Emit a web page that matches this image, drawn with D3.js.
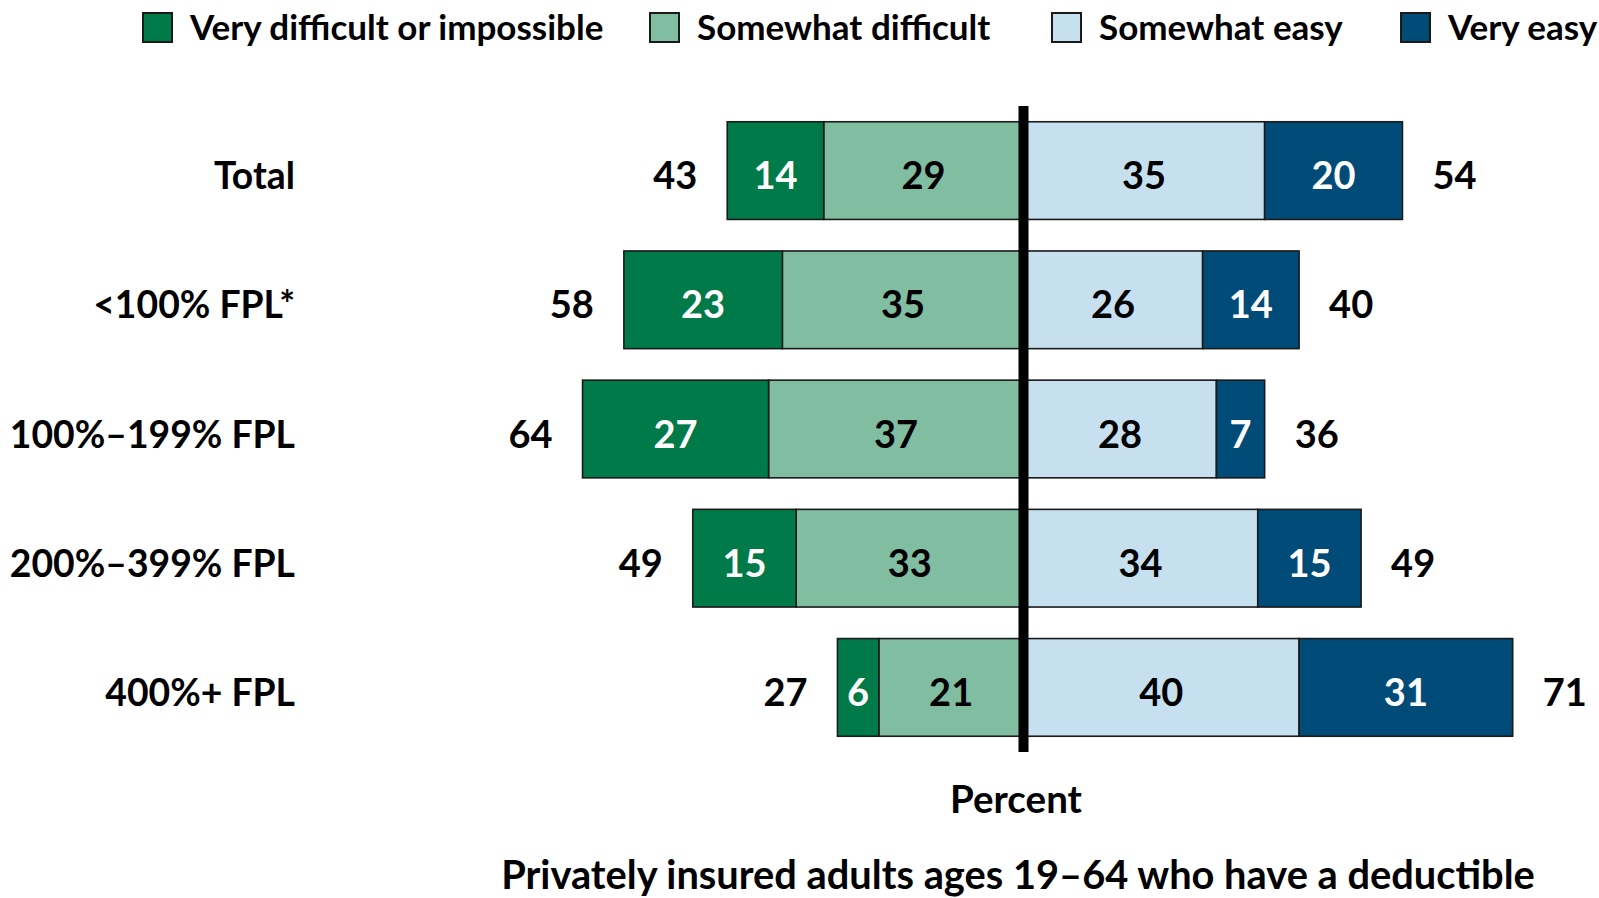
<!DOCTYPE html>
<html>
<head>
<meta charset="utf-8">
<script src="https://cdn.jsdelivr.net/npm/d3@7"></script>
<style>
  html, body { margin: 0; padding: 0; background: #ffffff; }
  svg { display: block; }
  text { font-family: Lato, "Open Sans", "Noto Sans", sans-serif; font-weight: 700; fill: #000; }
</style>
</head>
<body>
<svg id="chart" width="1599" height="898"></svg>
<script>
// Income groups (rows of the diverging bar chart)
const categories = ["Total", "<100% FPL*", "100%–199% FPL", "200%–399% FPL", "400%+ FPL"];

// Percent of adults in each response group
const veryDifficult     = [14, 23, 27, 15, 6];
const somewhatDifficult = [29, 35, 37, 33, 21];
const somewhatEasy      = [35, 26, 28, 34, 40];
const veryEasy          = [20, 14, 7, 15, 31];

// Net totals printed beside each side of the bars
const difficultTotals = [43, 58, 64, 49, 27];
const easyTotals      = [54, 40, 36, 49, 71];

const seriesNames  = ["Very difficult or impossible", "Somewhat difficult", "Somewhat easy", "Very easy"];
const seriesColors = ["#007a48", "#81bda1", "#c6e0ef", "#004b78"];
const seriesText   = ["#ffffff", "#000000", "#000000", "#ffffff"];

const axisTitle  = "Percent";
const chartTitle = "Privately insured adults ages 19–64 who have a deductible";

// ---- layout ----
const svg = d3.select("#chart");
const unit = 6.89;          // pixels per percentage point
const zeroX = 1023.5;       // position of the centre divider
const x = d3.scaleLinear()
  .domain([-70, 75])
  .range([zeroX - 70 * unit, zeroX + 75 * unit]);

const y = d3.scaleBand()
  .domain(categories)
  .range([106, 752])
  .paddingInner(0.244)
  .paddingOuter(0.122);

const labelSize = 38;
const rowLabelSize = 37.3;
const textDrop = 18.5;      // baseline offset from the band centre

// Build stacked segments: negative side grows leftwards from zero
const segments = [];
categories.forEach((cat, i) => {
  const sd = somewhatDifficult[i], vd = veryDifficult[i];
  const se = somewhatEasy[i], ve = veryEasy[i];
  segments.push({ cat, s: 1, v: sd, x0: -sd, x1: 0 });
  segments.push({ cat, s: 0, v: vd, x0: -(sd + vd), x1: -sd });
  segments.push({ cat, s: 2, v: se, x0: 0, x1: se });
  segments.push({ cat, s: 3, v: ve, x0: se, x1: se + ve });
});

const bars = svg.append("g").attr("class", "bars");
bars.selectAll("rect")
  .data(segments)
  .join("rect")
  .attr("x", d => x(d.x0))
  .attr("width", d => x(d.x1) - x(d.x0))
  .attr("y", d => y(d.cat))
  .attr("height", y.bandwidth())
  .attr("fill", d => seriesColors[d.s])
  .attr("stroke", "#1a1a1a")
  .attr("stroke-width", 1.6);

// Values inside each segment
bars.selectAll("text")
  .data(segments)
  .join("text")
  .attr("x", d => (x(d.x0) + x(d.x1)) / 2)
  .attr("y", d => y(d.cat) + y.bandwidth() / 2 + textDrop)
  .attr("text-anchor", "middle")
  .style("font-size", labelSize + "px")
  .style("fill", d => seriesText[d.s])
  .text(d => d.v);

// Centre divider
svg.append("line")
  .attr("x1", x(0)).attr("x2", x(0))
  .attr("y1", y.range()[0]).attr("y2", y.range()[1])
  .attr("stroke", "#000")
  .attr("stroke-width", 10);

// Side totals
const totals = svg.append("g").attr("class", "totals");
totals.selectAll("text.left")
  .data(categories)
  .join("text")
  .attr("class", "left")
  .attr("x", (c, i) => x(-(veryDifficult[i] + somewhatDifficult[i])) - 30)
  .attr("y", c => y(c) + y.bandwidth() / 2 + textDrop)
  .attr("text-anchor", "end")
  .style("font-size", labelSize + "px")
  .text((c, i) => difficultTotals[i]);

totals.selectAll("text.right")
  .data(categories)
  .join("text")
  .attr("class", "right")
  .attr("x", (c, i) => x(somewhatEasy[i] + veryEasy[i]) + 30)
  .attr("y", c => y(c) + y.bandwidth() / 2 + textDrop)
  .attr("text-anchor", "start")
  .style("font-size", labelSize + "px")
  .text((c, i) => easyTotals[i]);

// Row labels
svg.append("g").attr("class", "row-labels")
  .selectAll("text")
  .data(categories)
  .join("text")
  .attr("x", 295)
  .attr("y", c => y(c) + y.bandwidth() / 2 + textDrop)
  .attr("text-anchor", "end")
  .style("font-size", rowLabelSize + "px")
  .text(c => c);

// Axis title and chart caption
svg.append("text")
  .attr("x", 1016).attr("y", 813)
  .attr("text-anchor", "middle")
  .style("font-size", "38.5px")
  .text(axisTitle);

svg.append("text")
  .attr("x", 1018).attr("y", 889)
  .attr("text-anchor", "middle")
  .style("font-size", "39.8px")
  .text(chartTitle);

// Legend
const legendX = [143, 650, 1052, 1401];
const legend = svg.append("g").attr("class", "legend");
const items = legend.selectAll("g")
  .data(seriesNames)
  .join("g")
  .attr("transform", (d, i) => `translate(${legendX[i]},13)`);
items.append("rect")
  .attr("width", 29).attr("height", 29)
  .attr("fill", (d, i) => seriesColors[i])
  .attr("stroke", "#1a1a1a")
  .attr("stroke-width", 2);
items.append("text")
  .attr("x", 47).attr("y", 27)
  .style("font-size", "35px")
  .text(d => d);
</script>
</body>
</html>
